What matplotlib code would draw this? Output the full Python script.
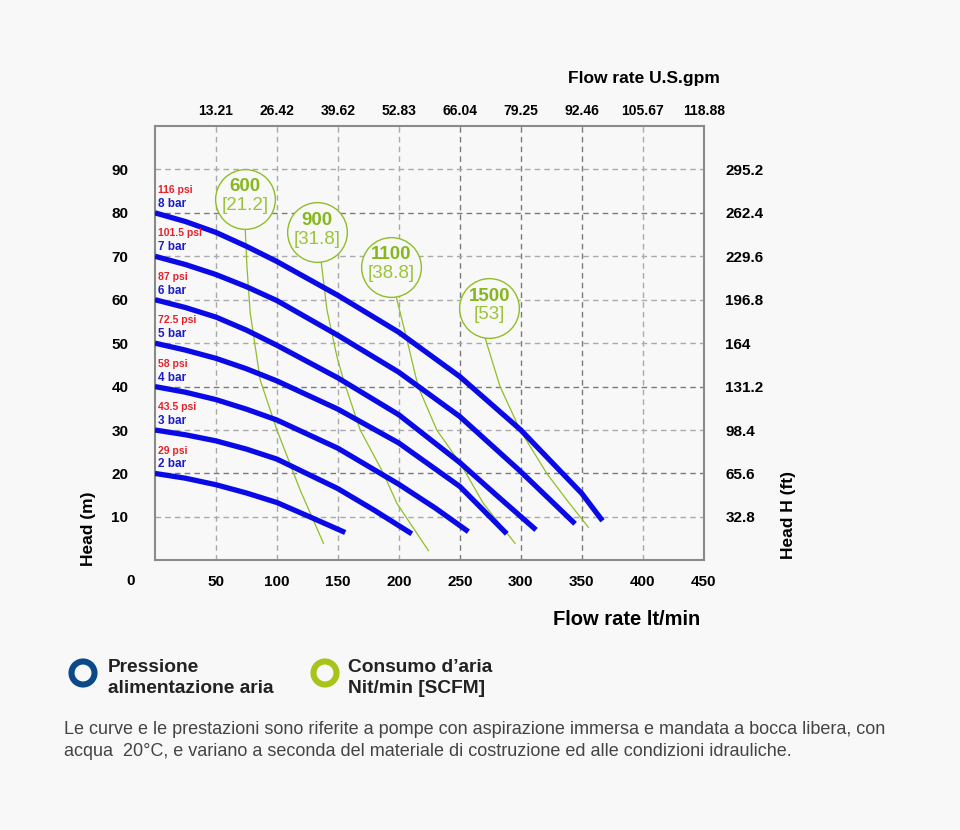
import matplotlib
matplotlib.use('Agg')
import matplotlib.pyplot as plt
from matplotlib.patches import Circle

plt.rcParams['font.family'] = ['Liberation Sans', 'DejaVu Sans']

# pump curves: flow lt/min -> head m, one per supply pressure
bar_labels = ['2 bar', '3 bar', '4 bar', '5 bar', '6 bar', '7 bar', '8 bar']
psi_labels = ['29 psi', '43.5 psi', '58 psi', '72.5 psi', '87 psi', '101.5 psi', '116 psi']
start_head = [20, 30, 40, 50, 60, 70, 80]

flow_2bar = [0, 25, 50, 75, 100, 127, 156]
head_2bar = [20, 18.9, 17.4, 15.5, 13.3, 10.0, 6.4]
flow_3bar = [0, 25, 50, 75, 100, 150, 180, 210.6]
head_3bar = [30, 28.9, 27.5, 25.6, 23.3, 16.5, 11.5, 6.1]
flow_4bar = [0, 25, 50, 75, 100, 150, 200, 230, 257]
head_4bar = [40, 38.7, 37, 34.8, 32.3, 25.8, 17.5, 12, 6.6]
flow_5bar = [0, 25, 50, 75, 100, 150, 200, 250, 288.5]
head_5bar = [50, 48.4, 46.5, 44.1, 41.3, 34.8, 27, 17, 6.1]
flow_6bar = [0, 25, 50, 75, 100, 150, 200, 250, 280, 312.5]
head_6bar = [60, 58.2, 56, 53, 49.5, 42, 33.5, 22.5, 15, 7]
flow_7bar = [0, 25, 50, 75, 100, 150, 200, 250, 300, 344.5]
head_7bar = [70, 68.1, 65.8, 63, 59.8, 51.8, 43.3, 33.1, 20.4, 8.4]
flow_8bar = [0, 25, 50, 75, 100, 150, 200, 250, 300, 350, 367]
head_8bar = [80, 78.0, 75.5, 72.3, 68.8, 61, 52.5, 42.3, 30, 15.4, 9.1]

curves = [(flow_2bar, head_2bar), (flow_3bar, head_3bar), (flow_4bar, head_4bar),
          (flow_5bar, head_5bar), (flow_6bar, head_6bar), (flow_7bar, head_7bar),
          (flow_8bar, head_8bar)]

# air consumption lines Nl/min [SCFM]
air_top = ['600', '900', '1100', '1500']
air_bot = ['[21.2]', '[31.8]', '[38.8]', '[53]']
bubble_x = [73.9, 132.8, 193.7, 274.3]
bubble_y = [83.3, 75.5, 67.6, 58.1]

air_600_x = [74, 75.4, 78.1, 86.3, 100, 119, 138.2]
air_600_y = [76.3, 67.6, 56.9, 41.5, 30, 16.2, 3.9]
air_900_x = [136.3, 141, 149.2, 154.6, 168.3, 187.4, 198.4, 224.3]
air_900_y = [68.7, 57.7, 46.9, 41.5, 30, 20, 13.1, 2.2]
air_1100_x = [197.8, 206.6, 215.8, 231.1, 250.2, 269.3, 295.3]
air_1100_y = [60.7, 50.8, 40, 30, 22.4, 13.1, 3.9]
air_1500_x = [270.7, 283, 299.4, 321.3, 337.7, 355.4]
air_1500_y = [51.2, 40, 30, 20, 13.9, 7.6]
air_lines = [(air_600_x, air_600_y), (air_900_x, air_900_y),
             (air_1100_x, air_1100_y), (air_1500_x, air_1500_y)]

x_ticks = [50, 100, 150, 200, 250, 300, 350, 400, 450]
gpm_labels = ['13.21', '26.42', '39.62', '52.83', '66.04', '79.25', '92.46', '105.67', '118.88']
y_ticks = [10, 20, 30, 40, 50, 60, 70, 80, 90]
ft_labels = ['32.8', '65.6', '98.4', '131.2', '164', '196.8', '229.6', '262.4', '295.2']

bg = '#f8f8f8'
blue = '#0a0ae6'
green = '#8fbf26'

fig = plt.figure(figsize=(9.6, 8.3), dpi=100, facecolor=bg)
ax = fig.add_axes([155 / 960, (830 - 560.3) / 830, (703.7 - 155) / 960, (560.3 - 126) / 830])
ax.set_facecolor(bg)
ax.set_xlim(0, 450)
ax.set_ylim(0, 100)

# grid: some lines darker as in the original
for x in x_ticks[:-1]:
    c = '#7a7a7a' if x in (250, 300, 350) else '#aaaaaa'
    ax.axvline(x, color=c, lw=1.0, ls=(0, (4, 3)), zorder=1)
for y in y_ticks:
    c = '#7a7a7a' if y in (20, 40, 80) else '#aaaaaa'
    ax.axhline(y, color=c, lw=1.0, ls=(0, (4, 3)), zorder=1)

for fx, fy in air_lines:
    ax.plot(fx, fy, color=green, lw=0.9, zorder=2)

for (fx, fy) in curves:
    ax.plot(fx, fy, color=blue, lw=3.8, solid_capstyle='butt', solid_joinstyle='round', zorder=3)

ax.scatter(bubble_x, bubble_y, s=1850, facecolors=bg, edgecolors=green, linewidths=1.0, zorder=4)
for bx, by, t1, t2 in zip(bubble_x, bubble_y, air_top, air_bot):
    ax.annotate(t1, (bx, by), xytext=(0, 8.5), textcoords='offset points', ha='center', va='center',
                color='#86b81e', fontsize=13.5, fontweight='bold', zorder=5)
    ax.annotate(t2, (bx, by), xytext=(0, -5), textcoords='offset points', ha='center', va='center',
                color='#9cc43a', fontsize=13.5, zorder=5)

for h, b, p in zip(start_head, bar_labels, psi_labels):
    ax.annotate(p, (0, h), xytext=(2, 16.5), textcoords='offset points', ha='left', va='center',
                color='#e8202a', fontsize=7.5, fontweight='bold')
    ax.annotate(b, (0, h), xytext=(2, 6.5), textcoords='offset points', ha='left', va='center',
                color='#1c1cc8', fontsize=8.5, fontweight='bold')

for s in ax.spines.values():
    s.set_color('#8a8a8a')
    s.set_linewidth(1.5)

ax.set_xticks(x_ticks)
ax.set_xticklabels([str(v) for v in x_ticks])
ax.set_yticks(y_ticks)
ax.tick_params(length=0)
ax.tick_params(axis='x', pad=10.4, labelsize=11)
ax.tick_params(axis='y', pad=19.2, labelsize=11)
for lab in ax.get_xticklabels() + ax.get_yticklabels():
    lab.set_fontweight('bold')

top = ax.secondary_xaxis('top')
top.set_xticks(x_ticks)
top.set_xticklabels(gpm_labels, fontsize=10, fontweight='bold')
top.tick_params(length=0, pad=5.8)
top.spines['top'].set_visible(False)

right = ax.secondary_yaxis('right')
right.set_yticks(y_ticks)
right.set_yticklabels(ft_labels, fontsize=11, fontweight='bold')
right.tick_params(length=0, pad=15.5)
right.spines['right'].set_visible(False)

# overlay in pixel units for the texts outside the chart
ov = fig.add_axes([0, 0, 1, 1], facecolor='none')
ov.set_xlim(0, 960)
ov.set_ylim(830, 0)
ov.axis('off')

ov.text(131, 581, '0', ha='center', va='center', fontsize=11, fontweight='bold')
ov.text(720, 78, 'Flow rate U.S.gpm', ha='right', va='center', fontsize=12.5, fontweight='bold')
ov.text(700, 619, 'Flow rate lt/min', ha='right', va='center', fontsize=14.5, fontweight='bold')
ov.text(88, 566, 'Head (m)', ha='center', va='bottom', rotation=90, fontsize=12.5, fontweight='bold')
ov.text(788, 559, 'Head H (ft)', ha='center', va='bottom', rotation=90, fontsize=12.5, fontweight='bold')

ov.add_patch(Circle((83, 673), 11.5, fill=False, edgecolor='#0b4a88', lw=4.4))
ov.add_patch(Circle((325, 673), 11.5, fill=False, edgecolor='#a8c41a', lw=4.4))
ov.text(108, 667, 'Pressione', ha='left', va='center', fontsize=13.8, fontweight='bold', color='#222222')
ov.text(108, 688, 'alimentazione aria', ha='left', va='center', fontsize=13.8, fontweight='bold', color='#222222')
ov.text(348, 667, 'Consumo d\u2019aria', ha='left', va='center', fontsize=13.8, fontweight='bold', color='#222222')
ov.text(348, 688, 'Nit/min [SCFM]', ha='left', va='center', fontsize=13.8, fontweight='bold', color='#222222')

ov.text(64, 729, 'Le curve e le prestazioni sono riferite a pompe con aspirazione immersa e mandata a bocca libera, con',
        ha='left', va='center', fontsize=13, color='#444444')
ov.text(64, 751, 'acqua  20\u00b0C, e variano a seconda del materiale di costruzione ed alle condizioni idrauliche.',
        ha='left', va='center', fontsize=13, color='#444444')

fig.savefig('out.png', dpi=100, facecolor=bg)
